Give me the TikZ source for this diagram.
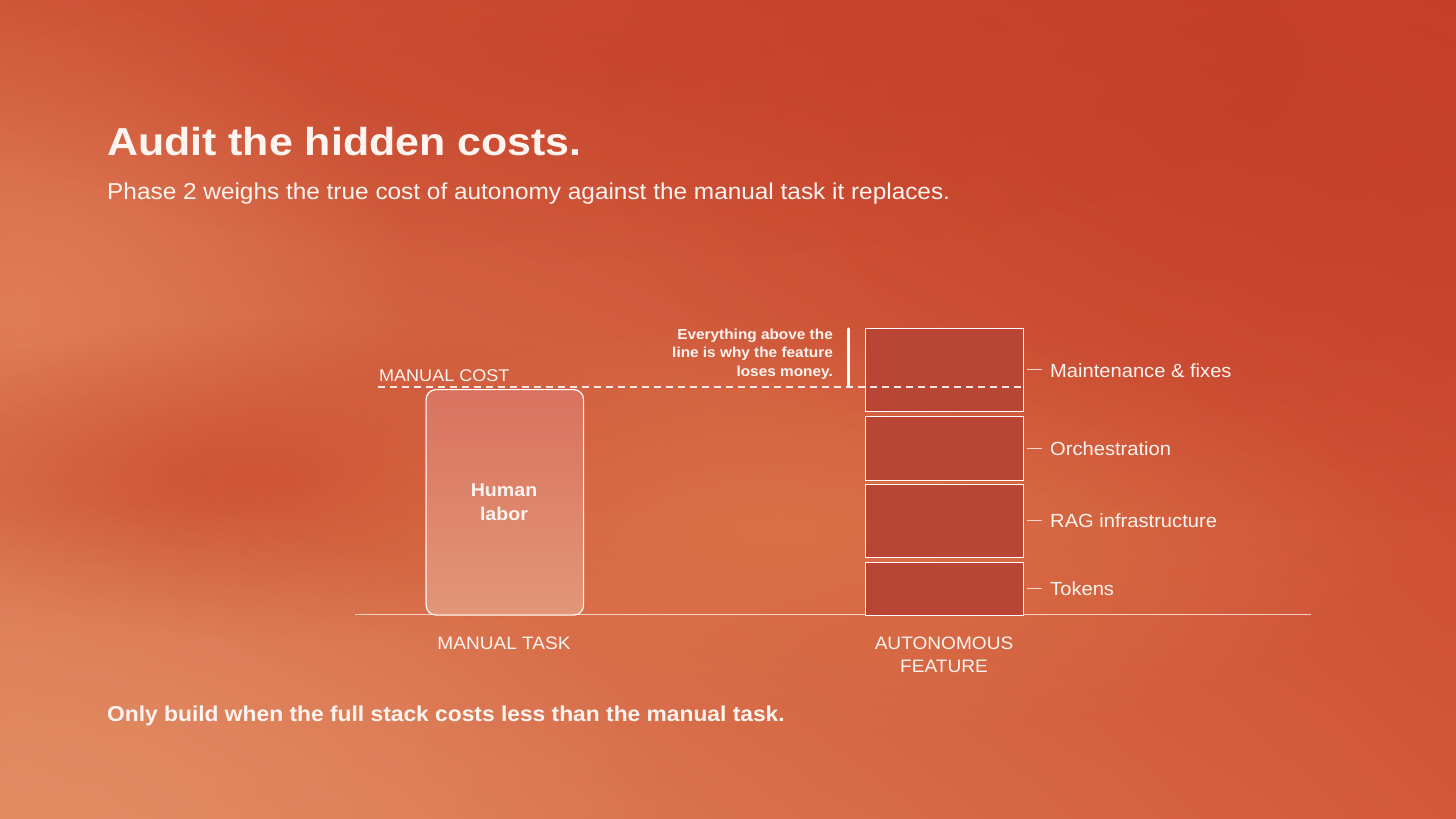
\documentclass[tikz,border=0pt]{standalone}
\usepackage{fontspec}
\usetikzlibrary{fadings,shadings}
\newfontfamily\rfont[FakeStretch=1.06]{Liberation Sans}
\newfontfamily\bfont[FakeStretch=1.06]{Liberation Sans Bold}
\newfontfamily\tfont[FakeStretch=1.1]{Liberation Sans Bold}
\definecolor{txt}{HTML}{FFF4EF}
\definecolor{stackfill}{HTML}{B94535}
\definecolor{bgUL}{RGB}{206,86,56}
\definecolor{bgUR}{RGB}{198,63,42}
\definecolor{bgLL}{RGB}{224,136,96}
\definecolor{bgLR}{RGB}{210,88,58}
\definecolor{blobA}{RGB}{224,124,86}
\definecolor{blobB}{RGB}{202,74,46}
\definecolor{blobC}{RGB}{218,112,70}
\definecolor{blobD}{RGB}{226,140,100}
\definecolor{blobE}{RGB}{196,62,40}
\definecolor{humtop}{RGB}{216,114,94}
\definecolor{humbot}{RGB}{227,150,120}
\tikzfading[name=fuzzy, inner color=transparent!0, outer color=transparent!100]
\tikzset{
  lbl/.style={text=txt, inner sep=0pt, font=\rfont\fontsize{19}{22}\selectfont, anchor=base west},
  caps/.style={text=txt, inner sep=0pt, font=\rfont\fontsize{18}{23}\selectfont, align=center},
  seg/.style={draw=white, line width=1.2pt, fill=stackfill},
  tick/.style={draw=white, draw opacity=0.75, line width=1pt},
}
\begin{document}
\begin{tikzpicture}[x=1pt,y=-1pt]
\useasboundingbox (0,0) rectangle (1456,819);
% background
\shade[upper left=bgUL, upper right=bgUR, lower left=bgLL, lower right=bgLR]
  (0,0) rectangle (1456,819);
\fill[color=blobA, path fading=fuzzy] (20,310) ellipse (400 and 330);
\fill[color=blobB, path fading=fuzzy, fill opacity=0.85] (280,480) ellipse (460 and 160);
\fill[color=blobC, path fading=fuzzy] (780,530) ellipse (640 and 220);
\fill[color=blobD, path fading=fuzzy, fill opacity=0.8] (80,800) ellipse (600 and 300);
\fill[color=blobE, path fading=fuzzy, fill opacity=0.7] (1300,120) ellipse (700 and 400);
\fill[color=blobE, path fading=fuzzy, fill opacity=0.5] (600,60) ellipse (700 and 200);

% title
\node[text=txt, inner sep=0pt, anchor=base west, font=\tfont\fontsize{39}{44}\selectfont] (title) at (107,155) {Audit the hidden costs.};
\node[text=txt, inner sep=0pt, anchor=base west, font=\rfont\fontsize{23}{27}\selectfont] (sub) at (107,199) {Phase 2 weighs the true cost of autonomy against the manual task it replaces.};

% axis
\coordinate (axL) at (355,614.5);
\coordinate (axR) at (1311,614.5);
\draw[white, draw opacity=0.7, line width=1pt] (axL) -- (axR);

% human labor box
\shade[top color=humtop, bottom color=humbot, rounded corners=10pt]
  (425.5,389) rectangle (583,614.5);
\node[draw=white, line width=1.2pt, rounded corners=10pt, minimum width=157.5pt, minimum height=225.5pt, inner sep=0pt, anchor=north west] (human) at (425.5,389) {};
\node[text=txt, inner sep=0pt, font=\bfont\fontsize{18.5}{24}\selectfont, align=center, anchor=base] (humtxt) at (504,520) {Human\\labor};

% stack
\node[seg, anchor=north west, minimum width=157.5pt, minimum height=83pt, inner sep=0pt] (s1) at (865,328) {};
\node[seg, anchor=north west, minimum width=157.5pt, minimum height=64pt, inner sep=0pt] (s2) at (865,416) {};
\node[seg, anchor=north west, minimum width=157.5pt, minimum height=73pt, inner sep=0pt] (s3) at (865,484) {};
\node[seg, anchor=north west, minimum width=157.5pt, minimum height=52.5pt, inner sep=0pt] (s4) at (865,562) {};

% dashed manual cost line
\coordinate (dashL) at (378,387);
\coordinate (dashR) at (1022.5,387);
\draw[white, draw opacity=0.85, line width=1.2pt, dash pattern=on 7pt off 5pt] (dashL) -- (dashR);
\node[text=txt, inner sep=0pt, anchor=base west, font=\rfont\fontsize{17}{20}\selectfont] (mc) at (379,381) {MANUAL COST};

% annotation
\coordinate (barT) at (848.5,329);
\coordinate (barB) at (848.5,386);
\draw[white, line width=3.5pt, line cap=round] (barT) -- (barB);
\node[text=txt, inner sep=0pt, anchor=base east, align=right, font=\bfont\fontsize{14.5}{18.7}\selectfont] (ann) at (833,376.5) {Everything above the\\line is why the feature\\loses money.};

% ticks and labels
\coordinate (t1a) at (1027,369.5); \coordinate (t1b) at (1042,369.5);
\coordinate (t2a) at (1027,448); \coordinate (t2b) at (1042,448);
\coordinate (t3a) at (1027,520); \coordinate (t3b) at (1042,520);
\coordinate (t4a) at (1027,588); \coordinate (t4b) at (1042,588);
\draw[tick] (t1a) -- (t1b);
\draw[tick] (t2a) -- (t2b);
\draw[tick] (t3a) -- (t3b);
\draw[tick] (t4a) -- (t4b);
\node[lbl] (l1) at (1050,377) {Maintenance \& fixes};
\node[lbl] (l2) at (1050,455) {Orchestration};
\node[lbl] (l3) at (1050,527) {RAG infrastructure};
\node[lbl] (l4) at (1050,595) {Tokens};

% axis labels
\node[caps, anchor=base] (mt) at (504,649) {MANUAL TASK};
\node[caps, anchor=base] (af) at (944,672) {AUTONOMOUS\\FEATURE};

% bottom
\node[text=txt, inner sep=0pt, anchor=base west, font=\bfont\fontsize{21.5}{26}\selectfont] (bottom) at (107,721) {Only build when the full stack costs less than the manual task.};
\end{tikzpicture}
\end{document}
